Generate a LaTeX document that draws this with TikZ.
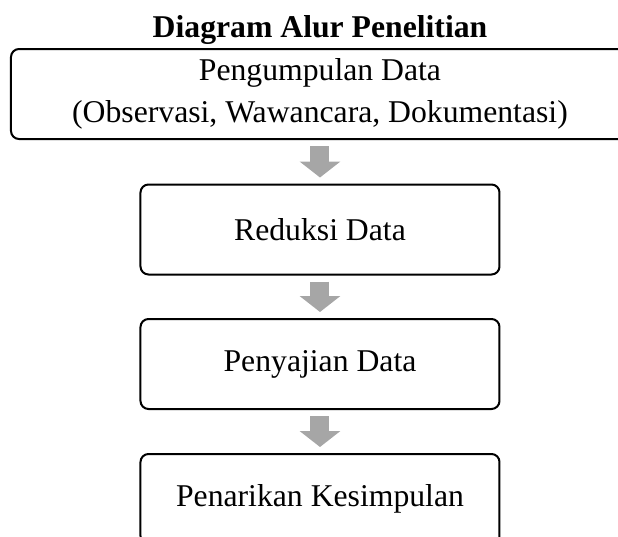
\documentclass[tikz,border=0pt]{standalone}
\usepackage{fontspec}
\setmainfont{Liberation Serif}
\usetikzlibrary{arrows.meta}
\definecolor{panah}{RGB}{166,166,166}
\begin{document}
\begin{tikzpicture}[x=0.5pt,y=0.5pt,
    tahap/.style={draw,line width=1pt,rounded corners=4pt,minimum width=179.5pt,
      minimum height=45pt,inner sep=0pt,align=center,font=\fontsize{15.85}{21}\selectfont},
    alur/.style={draw=panah,line width=9.5pt,-{Triangle[width=20pt,length=8pt]},
      shorten <=3pt,shorten >=3pt}]
      \useasboundingbox (0,0) rectangle (618,-537);
      \clip (0,0) rectangle (618,-537);
      \node[font=\bfseries\fontsize{15.85}{21}\selectfont,anchor=base] (judul) at (320,-37) {Diagram Alur Penelitian};
      \node[tahap,minimum width=309pt] (kumpul) at (320,-94) {Pengumpulan Data\\(Observasi, Wawancara, Dokumentasi)};
      \node[tahap] (reduksi) at (320,-229.5) {Reduksi Data};
      \node[tahap] (sajian) at (320,-364) {Penyajian Data};
      \node[tahap] (simpul) at (320,-499) {Penarikan Kesimpulan};
      \begin{scope}[alur]
        \draw (kumpul.south) to (reduksi.north);
        \draw (reduksi.south) to (sajian.north);
        \draw (sajian.south) to (simpul.north);
      \end{scope}
    \end{tikzpicture}
\end{document}
